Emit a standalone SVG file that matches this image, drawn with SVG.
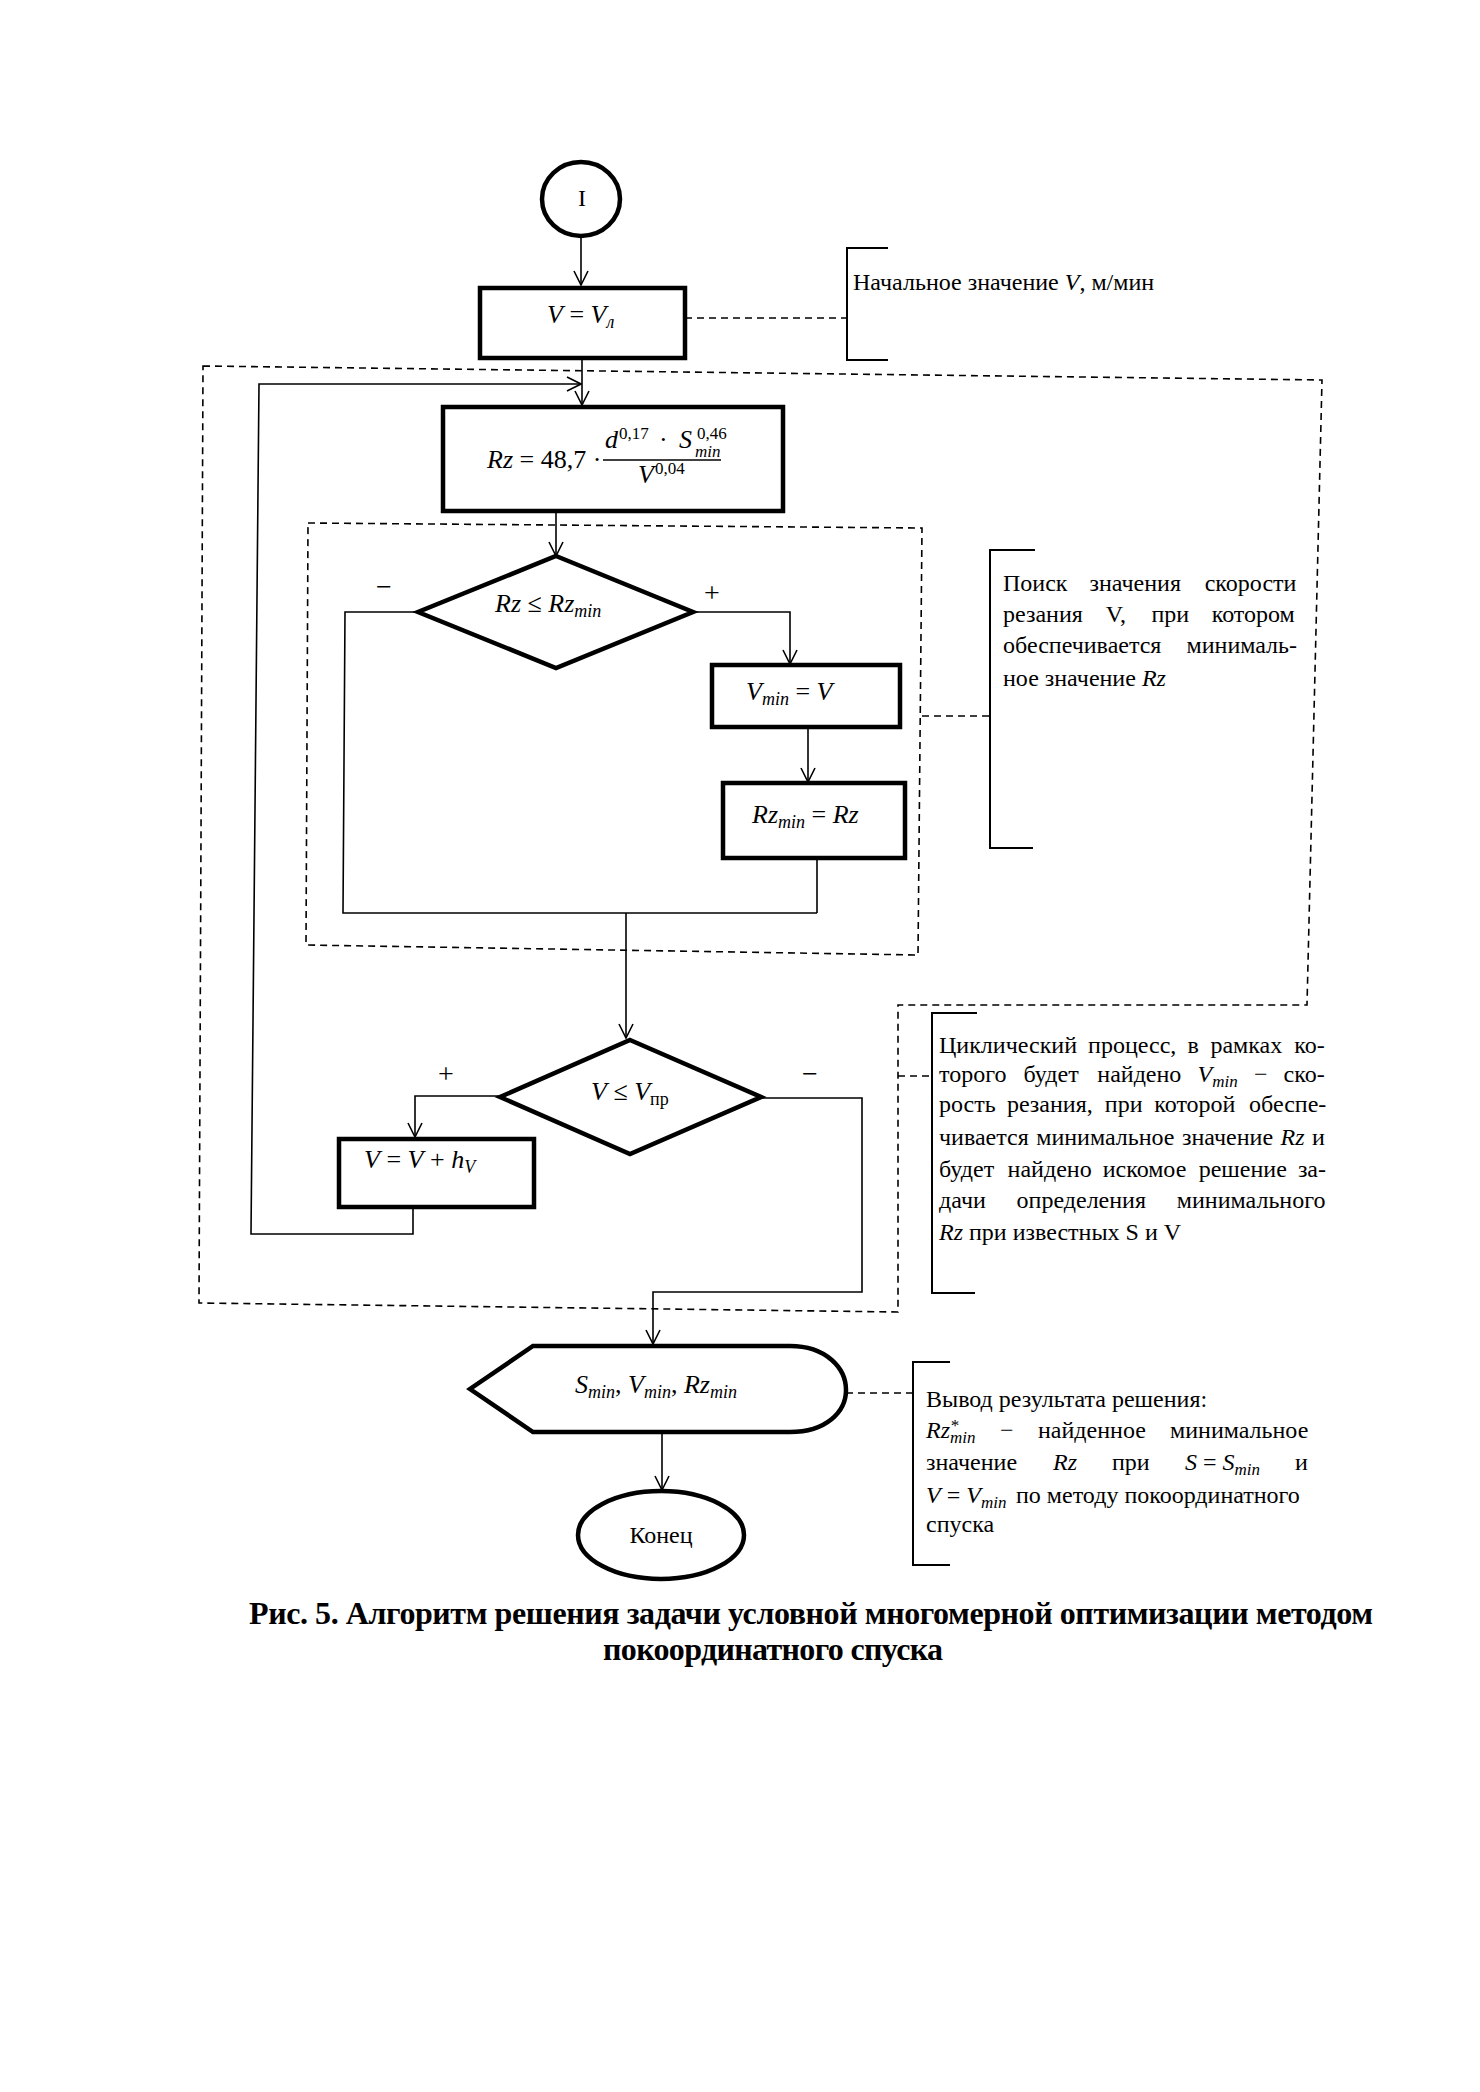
<svg xmlns="http://www.w3.org/2000/svg" width="1480" height="2092" viewBox="0 0 1480 2092">
<defs>
<style>
.t{font-family:"Liberation Serif","Times New Roman",serif;font-size:24px;fill:#000}
.m{font-family:"Liberation Serif","Times New Roman",serif;font-size:26px;fill:#000}
.lb{font-family:"Liberation Serif","Times New Roman",serif;font-size:28px;fill:#000}
.i{font-style:italic}
.sb{font-size:18px;font-style:italic}
.su{font-size:18px}
.sb2{font-size:17px;font-style:italic}
.sp{font-size:17px}
.cap{font-family:"Liberation Serif","Times New Roman",serif;font-size:32px;font-weight:bold;fill:#000}
.box{fill:#fff;stroke:#000;stroke-width:4.5}
.thin{fill:none;stroke:#000;stroke-width:1.6}
.arr{fill:none;stroke:#000;stroke-width:1.6;marker-end:url(#ah)}
.dash{fill:none;stroke:#000;stroke-width:1.6;stroke-dasharray:7 5}
.br{fill:none;stroke:#000;stroke-width:2}
</style>
<marker id="ah" viewBox="0 0 16 16" refX="15" refY="8" markerWidth="16" markerHeight="16" markerUnits="userSpaceOnUse" orient="auto">
<path d="M1,1 L15,8 L1,15" fill="none" stroke="#000" stroke-width="1.6"/>
</marker>
</defs>
<rect x="0" y="0" width="1480" height="2092" fill="#fff"/>

<g id="frames">
<path class="dash" d="M203,366 L1322,380 L1307,1005 L898,1005 L898,1312 L199,1303 Z"/>
<path class="dash" d="M308,523 L922,528 L918,955 L306,945 Z"/>
</g>

<g id="connectors">
<path class="arr" d="M581,236 V285"/>
<path class="arr" d="M582,358 V405"/>
<path class="arr" d="M413,1207 V1234 H251 L259,384 H581"/>
<path class="arr" d="M556,511 V556"/>
<path class="arr" d="M692,612 H790 V664"/>
<path class="arr" d="M808,727 V782"/>
<path class="thin" d="M418,612 H345 L343,913 H817"/>
<path class="thin" d="M817,858 V913"/>
<path class="arr" d="M626,913 V1038"/>
<path class="arr" d="M500,1096 H415 V1137"/>
<path class="arr" d="M761,1098 H862 V1292 H653 V1344"/>
<path class="arr" d="M662,1431 V1490"/>
<path class="dash" d="M685,318 H846"/>
<path class="dash" d="M922,716 H990"/>
<path class="dash" d="M898,1076 H932"/>
<path class="dash" d="M846,1393 H913"/>
</g>

<g id="n-start">
<ellipse class="box" cx="581" cy="199" rx="39" ry="37" stroke-width="4"/>
<text class="t" x="582" y="206" text-anchor="middle">I</text>
</g>

<g id="n-vinit">
<rect class="box" x="480" y="288" width="205" height="70"/>
<text class="m" x="547" y="323"><tspan class="i">V</tspan> = <tspan class="i">V</tspan><tspan class="sb" baseline-shift="-5">л</tspan></text>
</g>

<g id="n-rz">
<rect class="box" x="443" y="407" width="340" height="104"/>
<text class="m" x="487" y="468"><tspan class="i">Rz</tspan> = 48,7 ·</text>
<text class="m"><tspan class="i" x="605" y="448">d</tspan><tspan class="sp" x="619" y="439">0,17</tspan><tspan x="659" y="448">·</tspan><tspan class="i" x="679" y="448">S</tspan><tspan class="sp" x="697" y="439">0,46</tspan><tspan class="sb2" x="695" y="457">min</tspan></text>
<line class="thin" x1="603" y1="460" x2="721" y2="460"/>
<text class="m"><tspan class="i" x="638" y="483">V</tspan><tspan class="sp" x="655" y="474">0,04</tspan></text>
</g>

<g id="n-cond1">
<polygon class="box" points="556,556 693,612 556,668 418,612" stroke-width="4"/>
<text class="m" x="495" y="612"><tspan class="i">Rz</tspan> ≤ <tspan class="i">Rz</tspan><tspan class="sb" baseline-shift="-5">min</tspan></text>
<text class="lb" x="384" y="596" text-anchor="middle">−</text>
<text class="lb" x="712" y="602" text-anchor="middle">+</text>
</g>

<g id="n-vmin">
<rect class="box" x="712" y="665" width="188" height="62"/>
<text class="m" x="746" y="700"><tspan class="i">V</tspan><tspan class="sb" baseline-shift="-5">min</tspan> = <tspan class="i">V</tspan></text>
</g>

<g id="n-rzmin">
<rect class="box" x="723" y="783" width="182" height="75"/>
<text class="m" x="752" y="823"><tspan class="i">Rz</tspan><tspan class="sb" baseline-shift="-5">min</tspan> = <tspan class="i">Rz</tspan></text>
</g>

<g id="n-cond2">
<polygon class="box" points="630,1040 761,1097 630,1154 500,1097" stroke-width="4"/>
<text class="m" x="591" y="1100"><tspan class="i">V</tspan> ≤ <tspan class="i">V</tspan><tspan class="su" baseline-shift="-5">пр</tspan></text>
<text class="lb" x="446" y="1083" text-anchor="middle">+</text>
<text class="lb" x="810" y="1083" text-anchor="middle">−</text>
</g>

<g id="n-vinc">
<rect class="box" x="339" y="1139" width="195" height="68"/>
<text class="m" x="364" y="1168"><tspan class="i">V</tspan> = <tspan class="i">V</tspan> + <tspan class="i">h</tspan><tspan class="sb" baseline-shift="-5">V</tspan></text>
</g>

<g id="n-out">
<path class="box" d="M533,1346 H790 C826,1346 846,1368 846,1390 C846,1412 826,1432 790,1432 H533 L470,1389 Z" stroke-width="4"/>
<text class="m" x="575" y="1393"><tspan class="i">S</tspan><tspan class="sb" baseline-shift="-5">min</tspan>, <tspan class="i">V</tspan><tspan class="sb" baseline-shift="-5">min</tspan>, <tspan class="i">Rz</tspan><tspan class="sb" baseline-shift="-5">min</tspan></text>
</g>

<g id="n-end">
<ellipse class="box" cx="661" cy="1535" rx="83" ry="44" stroke-width="3.5"/>
<text class="t" x="661" y="1543" text-anchor="middle">Конец</text>
</g>

<g id="ann-1">
<path class="br" d="M888,248 H847 V360 H888"/>
<text class="t" x="853" y="290">Начальное значение <tspan class="i">V</tspan>, м/мин</text>
</g>

<g id="ann-2">
<path class="br" d="M1035,550 H990 V848 H1033"/>
<text class="t" y="591"><tspan x="1003">Поиск</tspan><tspan x="1089.5">значения</tspan><tspan x="1204.7">скорости</tspan></text>
<text class="t" y="622"><tspan x="1003">резания</tspan><tspan x="1105.7">V,</tspan><tspan x="1151.5">при</tspan><tspan x="1211.7">котором</tspan></text>
<text class="t" y="653"><tspan x="1003">обеспечивается</tspan><tspan x="1186.5">минималь-</tspan></text>
<text class="t" x="1003" y="686">ное значение <tspan class="i">Rz</tspan></text>
</g>

<g id="ann-3">
<path class="br" d="M977,1013 H932 V1293 H975"/>
<text class="t" y="1053"><tspan x="939">Циклический</tspan><tspan x="1088.1">процесс,</tspan><tspan x="1187.4">в</tspan><tspan x="1210.4">рамках</tspan><tspan x="1294.3">ко-</tspan></text>
<text class="t" y="1082"><tspan x="939">торого</tspan><tspan x="1023.5">будет</tspan><tspan x="1097.3">найдено</tspan><tspan x="1197.5" class="i">V</tspan><tspan class="sb2" baseline-shift="-5">min</tspan><tspan x="1253.9">−</tspan><tspan x="1283.6">ско-</tspan></text>
<text class="t" y="1112"><tspan x="939">рость</tspan><tspan x="1006.9">резания,</tspan><tspan x="1104.8">при</tspan><tspan x="1154.3">которой</tspan><tspan x="1249">обеспе-</tspan></text>
<text class="t" x="939" y="1145" word-spacing="1.5">чивается минимальное значение <tspan class="i">Rz</tspan> и</text>
<text class="t" y="1177"><tspan x="939">будет</tspan><tspan x="1007.6">найдено</tspan><tspan x="1102.7">искомое</tspan><tspan x="1198.7">решение</tspan><tspan x="1297.9">за-</tspan></text>
<text class="t" y="1208"><tspan x="939">дачи</tspan><tspan x="1016.6">определения</tspan><tspan x="1176.8">минимального</tspan></text>
<text class="t" x="939" y="1240"><tspan class="i">Rz</tspan> при известных S и V</text>
</g>

<g id="ann-4">
<path class="br" d="M950,1362 H913 V1565 H950"/>
<text class="t" x="926" y="1407">Вывод результата решения:</text>
<text class="t" y="1438"><tspan x="926" class="i">Rz</tspan><tspan class="sb2" baseline-shift="7">*</tspan><tspan class="sb2" dx="-8.5" baseline-shift="-5">min</tspan><tspan x="1000">−</tspan><tspan x="1038">найденное</tspan><tspan x="1170">минимальное</tspan></text>
<text class="t" y="1470"><tspan x="926">значение</tspan><tspan x="1053" class="i">Rz</tspan><tspan x="1112">при</tspan><tspan x="1185" class="i">S</tspan> = <tspan class="i">S</tspan><tspan class="sb2" baseline-shift="-5">min</tspan><tspan x="1295">и</tspan></text>
<text class="t" y="1503"><tspan x="926" class="i">V</tspan> = <tspan class="i">V</tspan><tspan class="sb2" baseline-shift="-5">min</tspan><tspan x="1016">по методу покоординатного</tspan></text>
<text class="t" x="926" y="1532">спуска</text>
</g>

<g id="caption">
<text class="cap" x="249" y="1624" textLength="1124" lengthAdjust="spacing">Рис. 5. Алгоритм решения задачи условной многомерной оптимизации методом</text>
<text class="cap" x="603" y="1660" textLength="340" lengthAdjust="spacing">покоординатного спуска</text>
</g>
</svg>
